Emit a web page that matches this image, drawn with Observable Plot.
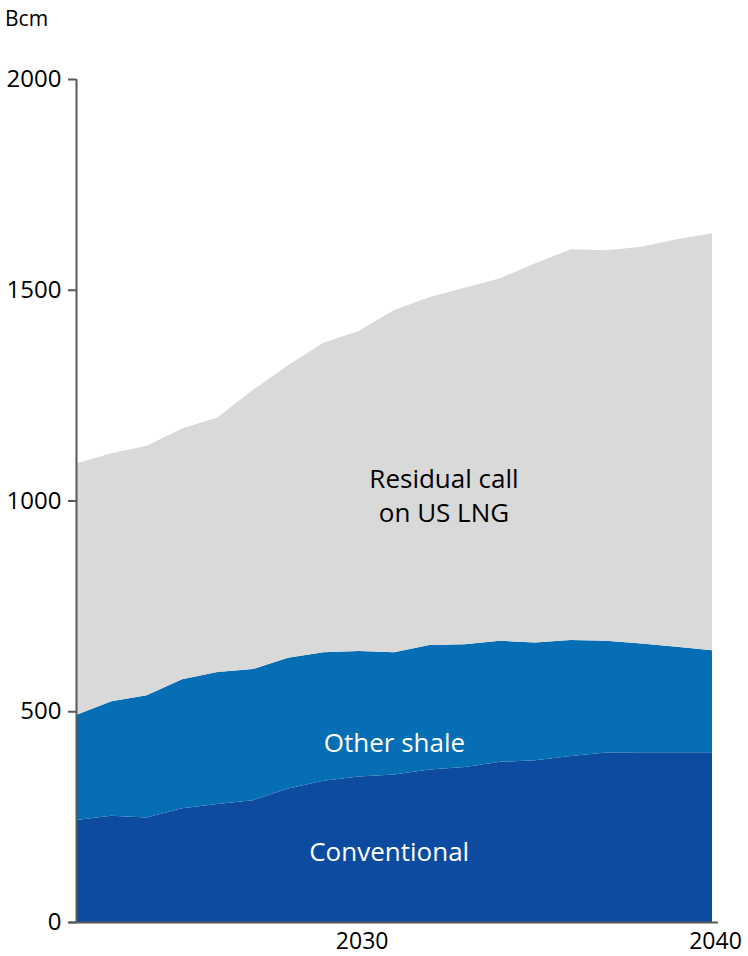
<!DOCTYPE html>
<html>
<head>
<meta charset="utf-8">
<script src="https://cdn.jsdelivr.net/npm/d3@7"></script>
<script src="https://cdn.jsdelivr.net/npm/@observablehq/plot@0.6"></script>
<style>
  html, body { margin: 0; padding: 0; background: #fff; }
  body { width: 748px; height: 956px; overflow: hidden; font-family: "Open Sans", sans-serif; }
  #unit { position: relative; height: 40px; }
  #unit span { position: absolute; left: 5px; top: 8px; font-size: 21px; line-height: 21px; color: #000; }
</style>
</head>
<body>
<div id="unit"><span>Bcm</span></div>
<div id="chart"></div>
<script>
const years = [2022, 2023, 2024, 2025, 2026, 2027, 2028, 2029, 2030, 2031, 2032, 2033, 2034, 2035, 2036, 2037, 2038, 2039, 2040];
const seriesNames = ["Conventional", "Other shale", "Residual call on US LNG"];
const conventional = [242, 252, 248, 270, 280, 289, 317, 335, 345, 350, 362, 368, 380, 384, 394, 402, 403, 403, 403];
const otherShale   = [249, 272, 290, 306, 313, 311, 310, 305, 298, 290, 295, 291, 287, 279, 275, 265, 258, 250, 242];
const residual     = [597, 588, 592, 595, 604, 662, 694, 734, 759, 812, 825, 846, 860, 900, 927, 927, 941, 967, 989];
const seriesColors = ["#0d4ba0", "#066eb4", "#d9d9d9"];

const yTicks = [0, 500, 1000, 1500, 2000];
const xTicks = [2030, 2040];

const labelTexts  = ["Residual call\non US LNG", "Other shale", "Conventional"];
const labelYears  = [2032.4, 2031, 2030.85];
const labelValues = [950, 404, 147];
const labelColors = ["#000000", "#ffffff", "#ffffff"];

const seriesValues = [conventional, otherShale, residual];
const data = [];
seriesNames.forEach((name, s) => {
  years.forEach((yr, i) => data.push({series: name, year: yr, value: seriesValues[s][i]}));
});
const labels = labelTexts.map((t, i) => ({text: t, year: labelYears[i], value: labelValues[i], color: labelColors[i]}));

const axisColor = "#595959";

const chart = Plot.plot({
  width: 748,
  height: 916,
  marginTop: 39,
  marginBottom: 34,
  marginLeft: 76,
  marginRight: 36,
  style: {fontFamily: "Open Sans, sans-serif", fontSize: "24px", color: "#000", background: "#fff"},
  x: {domain: [years[0], years[years.length - 1]], label: null},
  y: {domain: [0, 2000], label: null},
  color: {domain: seriesNames, range: seriesColors},
  marks: [
    Plot.areaY(data, {x: "year", y: "value", fill: "series", z: "series"}),
    Plot.ruleX([years[0]], {y1: 0, y2: 2000, stroke: axisColor, strokeWidth: 2}),
    Plot.ruleY([0], {stroke: axisColor, strokeWidth: 2.2, insetLeft: -7, insetRight: -6}),
    Plot.axisY({ticks: yTicks, tickSize: 8, tickPadding: 7, stroke: axisColor, strokeWidth: 2, fill: "#000", fontSize: 24, tickFormat: d => String(d), label: null}),
    Plot.axisX({ticks: xTicks, tickSize: 0, tickPadding: 10, fill: "#000", fontSize: 23, dx: 3, tickFormat: d => String(d), label: null}),
    Plot.text(labels, {x: "year", y: "value", text: "text", fill: "color", fontSize: 26, lineAnchor: "bottom", textAnchor: "middle", lineHeight: 1.296})
  ]
});
document.getElementById("chart").appendChild(chart);
</script>
</body>
</html>
